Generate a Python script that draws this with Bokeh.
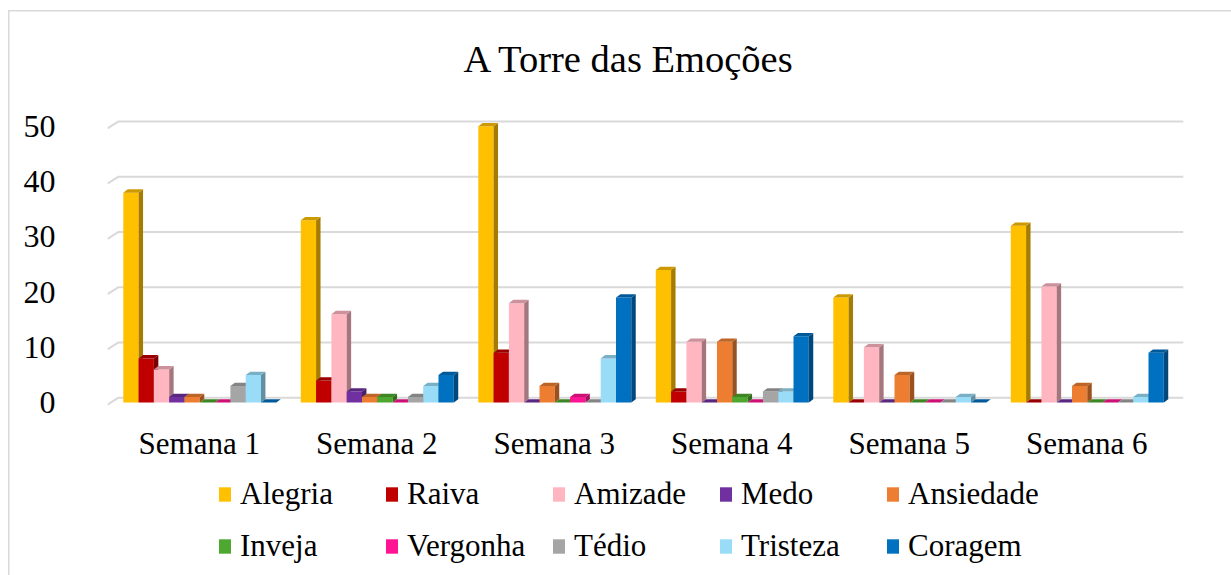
from bokeh.plotting import figure
from bokeh.layouts import column
from bokeh.models import FixedTicker, Legend, LegendItem
from bokeh.embed import file_html
from bokeh.resources import INLINE

categories = ["Semana 1", "Semana 2", "Semana 3", "Semana 4", "Semana 5", "Semana 6"]
series_names = ["Alegria", "Raiva", "Amizade", "Medo", "Ansiedade",
                "Inveja", "Vergonha", "Tédio", "Tristeza", "Coragem"]
alegria = [38, 33, 50, 24, 19, 32]
raiva = [8, 4, 9, 2, 0, 0]
amizade = [6, 16, 18, 11, 10, 21]
medo = [1, 2, 0, 0, 0, 0]
ansiedade = [1, 1, 3, 11, 5, 3]
inveja = [0, 1, 0, 1, 0, 0]
vergonha = [0, 0, 1, 0, 0, 0]
tedio = [3, 1, 0, 2, 0, 0]
tristeza = [5, 3, 8, 2, 1, 1]
coragem = [0, 5, 19, 12, 0, 9]
series_values = [alegria, raiva, amizade, medo, ansiedade,
                 inveja, vergonha, tedio, tristeza, coragem]
colors = ["#FFC000", "#C00000", "#FFB6C1", "#7030A0", "#ED7D31",
          "#4EA72E", "#FF1493", "#A5A5A5", "#99DCF7", "#0070C0"]
y_ticks = [0, 10, 20, 30, 40, 50]

FONT = "Liberation Serif"


def shade(hex_color, f):
    h = hex_color.lstrip("#")
    r, g, b = (int(h[i:i + 2], 16) for i in (0, 2, 4))
    return "#%02x%02x%02x" % (int(r * f), int(g * f), int(b * f))


# ---------------- main chart ----------------
p = figure(width=1231, height=470, output_backend="svg", toolbar_location=None,
           x_range=(-0.062, 6.0), y_range=(-1.071, 52.14),
           min_border_left=107, min_border_right=48, min_border_top=110,
           min_border_bottom=62)
p.outline_line_color = None
p.background_fill_color = "white"
p.border_fill_color = None
p.styles = {"box-shadow": "inset 8px 10px 0 0 #ffffff, inset 9.5px 11.5px 0 0 #d9d9d9",
            "background-color": "#ffffff"}
p.xgrid.visible = False
p.ygrid.visible = False

p.title.text = "A Torre das Emoções"
p.title.text_font = FONT
p.title.text_font_size = "38.5px"
p.title.text_font_style = "normal"
p.title.text_color = "#000000"
p.title.align = "left"
p.title.offset = 356
p.title.standoff = 70

ncat = len(categories)
gxs, gys = [], []
for t in y_ticks:
    gxs.append([-0.062, 0.0, float(ncat)])
    gys.append([t - 0.36, t + 0.89, t + 0.89])
p.multi_line(gxs, gys, line_color="#d9d9d9", line_width=2)

bw = 0.0862
off = 0.027
dx = 0.025
dy = 0.6
for j, (name, vals, col) in enumerate(zip(series_names, series_values, colors)):
    lefts = [i + off + j * bw for i in range(ncat)]
    rights = [l + bw for l in lefts]
    side_xs, side_ys, top_xs, top_ys = [], [], [], []
    for l, r, v in zip(lefts, rights, vals):
        side_xs.append([r, r + dx, r + dx, r])
        side_ys.append([0, dy, v + dy, v])
        top_xs.append([l, r, r + dx, l + dx])
        top_ys.append([v, v, v + dy, v + dy])
    p.quad(left=lefts, right=rights, bottom=[0] * ncat, top=vals,
           fill_color=col, line_color=None)
    p.patches(side_xs, side_ys, fill_color=shade(col, 0.65), line_color=None)
    p.patches(top_xs, top_ys, fill_color=shade(col, 0.8), line_color=None)

p.xaxis.ticker = FixedTicker(ticks=[i + 0.455 for i in range(ncat)])
p.xaxis.major_label_overrides = {i + 0.455: c for i, c in enumerate(categories)}
p.yaxis.ticker = FixedTicker(ticks=y_ticks)
for ax in (p.xaxis[0], p.yaxis[0]):
    ax.axis_line_color = None
    ax.major_tick_line_color = None
    ax.minor_tick_line_color = None
    ax.major_tick_out = 0
    ax.major_tick_in = 0
    ax.major_label_text_font = FONT
    ax.major_label_text_font_size = "31px"
    ax.major_label_text_color = "#000000"
p.yaxis.major_label_text_font_size = "32px"
p.yaxis.major_label_standoff = 52
p.xaxis.major_label_standoff = 17

# ---------------- legend strip ----------------
lg = figure(width=1231, height=105, output_backend="svg", toolbar_location=None,
            x_range=(0, 1), y_range=(0, 1), x_axis_type=None, y_axis_type=None,
            min_border=0)
lg.outline_line_color = None
lg.background_fill_color = None
lg.border_fill_color = None
lg.styles = {"box-shadow": "inset 8px 0 0 0 #ffffff, inset 9.5px 0 0 0 #d9d9d9",
             "background-color": "#ffffff"}
lg.xgrid.visible = False
lg.ygrid.visible = False

# legend keys: renderers kept outside the visible range of the strip
legend_items = []
for name, col in zip(series_names, colors):
    r = lg.quad(left=[5], right=[6], bottom=[5], top=[6], fill_color=col, line_color=None)
    legend_items.append(LegendItem(label=name, renderers=[r]))

legend = Legend(items=legend_items, ncols=5, location=(110, 9),
                orientation="horizontal")
legend.label_text_font = FONT
legend.label_text_font_size = "31px"
legend.label_text_color = "#000000"
legend.glyph_width = 15
legend.glyph_height = 18
legend.label_standoff = 8
legend.label_width = 132
legend.label_height = 40
legend.spacing = 12
legend.padding = 0
legend.margin = 0
legend.border_line_color = None
legend.background_fill_alpha = 0
lg.add_layout(legend, "center")

layout = column(p, lg, spacing=0)
open("out.html", "w").write(file_html(layout, INLINE))
